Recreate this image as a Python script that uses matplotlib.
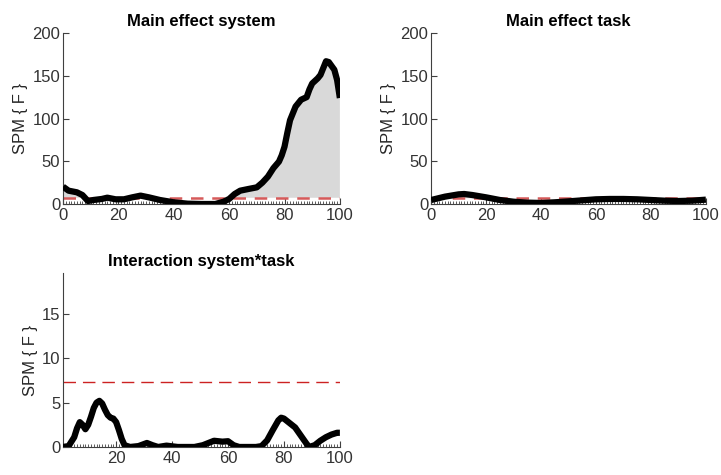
import numpy as np
import matplotlib
matplotlib.use("Agg")
import matplotlib.pyplot as plt
from matplotlib.ticker import MultipleLocator

plt.rcParams['font.family'] = ['Liberation Sans', 'DejaVu Sans']

# main effect system
sys_x = [0, 2, 5, 7, 9, 11, 14, 16, 19, 22, 25, 28, 31, 35, 40, 45, 50, 55, 58, 60,
         62, 64, 67, 70, 72, 74, 76, 78, 79, 80, 81, 82, 84, 86, 88, 89, 90, 92, 93,
         94, 95, 96, 98, 99, 100]
sys_y = [20.3, 15.6, 13.7, 10.5, 3.5, 4.7, 5.9, 7.4, 5.5, 5.5, 7.8, 9.8, 7.8, 4.7, 2.0,
         0.4, 0.0, 0.0, 2.7, 5.9, 11.7, 15.6, 17.6, 19.5, 25, 32, 42, 49.6, 57, 67, 83,
         98, 114, 122, 125, 134, 141, 147, 151, 159, 167, 166, 157, 145, 124]

# main effect task
task_x = [0, 5, 10, 12, 15, 20, 25, 30, 35, 40, 45, 50, 55, 60, 65, 70, 75, 80, 85, 90, 95, 100]
task_y = [4.7, 8.6, 11.3, 11.7, 10.5, 7.8, 4.7, 2.7, 1.6, 1.2, 2.0, 3.1, 4.3, 5.5, 5.9,
          5.9, 5.5, 4.7, 3.9, 3.5, 3.9, 5.1]

# interaction system*task
int_x = [1, 3, 5, 6, 7, 8, 9, 10, 11, 12, 13, 14, 15, 16, 17, 18, 19, 20, 21, 22, 23,
         25, 28, 31, 33, 35, 38, 42, 48, 51, 53, 55, 58, 60, 62, 64, 70, 72, 74, 76, 78,
         79, 80, 82, 84, 86, 88, 89, 91, 93, 95, 97, 99, 100]
int_y = [0, 0.1, 1.1, 2.1, 2.8, 2.5, 2.0, 2.5, 3.4, 4.4, 5.0, 5.2, 4.9, 4.2, 3.6, 3.3,
         3.2, 2.8, 1.9, 0.9, 0.2, 0, 0.1, 0.45, 0.2, 0, 0.15, 0, 0, 0.2, 0.45, 0.7, 0.6,
         0.65, 0.2, 0, 0, 0.1, 0.75, 1.9, 3.0, 3.3, 3.2, 2.7, 2.2, 1.3, 0.4, 0, 0.2, 0.7,
         1.1, 1.4, 1.6, 1.6]

thresh = [7.3, 7.3, 7.3]
titles = ['Main effect system', 'Main effect task', 'Interaction system*task']

fig = plt.figure(figsize=(7.21, 4.75), dpi=100)
ax1 = fig.add_axes([0.0874, 0.5705, 0.384, 0.36])
ax2 = fig.add_axes([0.598, 0.5705, 0.381, 0.36])
ax3 = fig.add_axes([0.0874, 0.059, 0.384, 0.366])

gray = '#404040'

def style(ax, title, ylim, yticks, xlim, xticks):
    ax.set_xlim(*xlim)
    ax.set_ylim(*ylim)
    ax.set_xticks(xticks)
    ax.set_yticks(yticks)
    ax.xaxis.set_minor_locator(MultipleLocator(1))
    ax.spines['top'].set_visible(False)
    ax.spines['right'].set_visible(False)
    for s in ['left', 'bottom']:
        ax.spines[s].set_color(gray)
        ax.spines[s].set_linewidth(0.8)
    ax.tick_params(which='major', direction='in', length=4, colors=gray,
                   labelsize=12, labelcolor='#333333', pad=3)
    ax.tick_params(axis='y', which='major', pad=2)
    ax.tick_params(which='minor', direction='in', length=2, colors=gray, width=0.6)
    ax.tick_params(axis='y', which='minor', left=False)
    ax.set_ylabel('SPM { F }', fontsize=12, color='#262626', labelpad=3)
    ax.set_title(title, fontsize=12, fontweight='bold', pad=5)

for ax, x, y, th, t in [(ax1, sys_x, sys_y, thresh[0], titles[0]),
                        (ax2, task_x, task_y, thresh[1], titles[1])]:
    xx = np.array(x, dtype=float)
    yy = np.array(y, dtype=float)
    ax.fill_between(xx, th, yy, where=yy > th, interpolate=True, color='#d9d9d9', lw=0)
    ax.plot(xx, yy, color='black', lw=4.5, solid_capstyle='butt', zorder=3)
    ax.axhline(th, color='#d65a5a', lw=1.8, ls=(0, (5, 3.5)), zorder=2)
    style(ax, t, (0, 200), [0, 50, 100, 150, 200], (0, 100), [0, 20, 40, 60, 80, 100])

ax3.plot(int_x, int_y, color='black', lw=4.5, solid_capstyle='butt', zorder=3)
ax3.axhline(thresh[2], color='#cc2222', lw=1.0, ls=(0, (9, 5)), zorder=2)
style(ax3, titles[2], (0, 19.6), [0, 5, 10, 15], (1, 100), [20, 40, 60, 80, 100])

fig.savefig('out.png', dpi=100)
